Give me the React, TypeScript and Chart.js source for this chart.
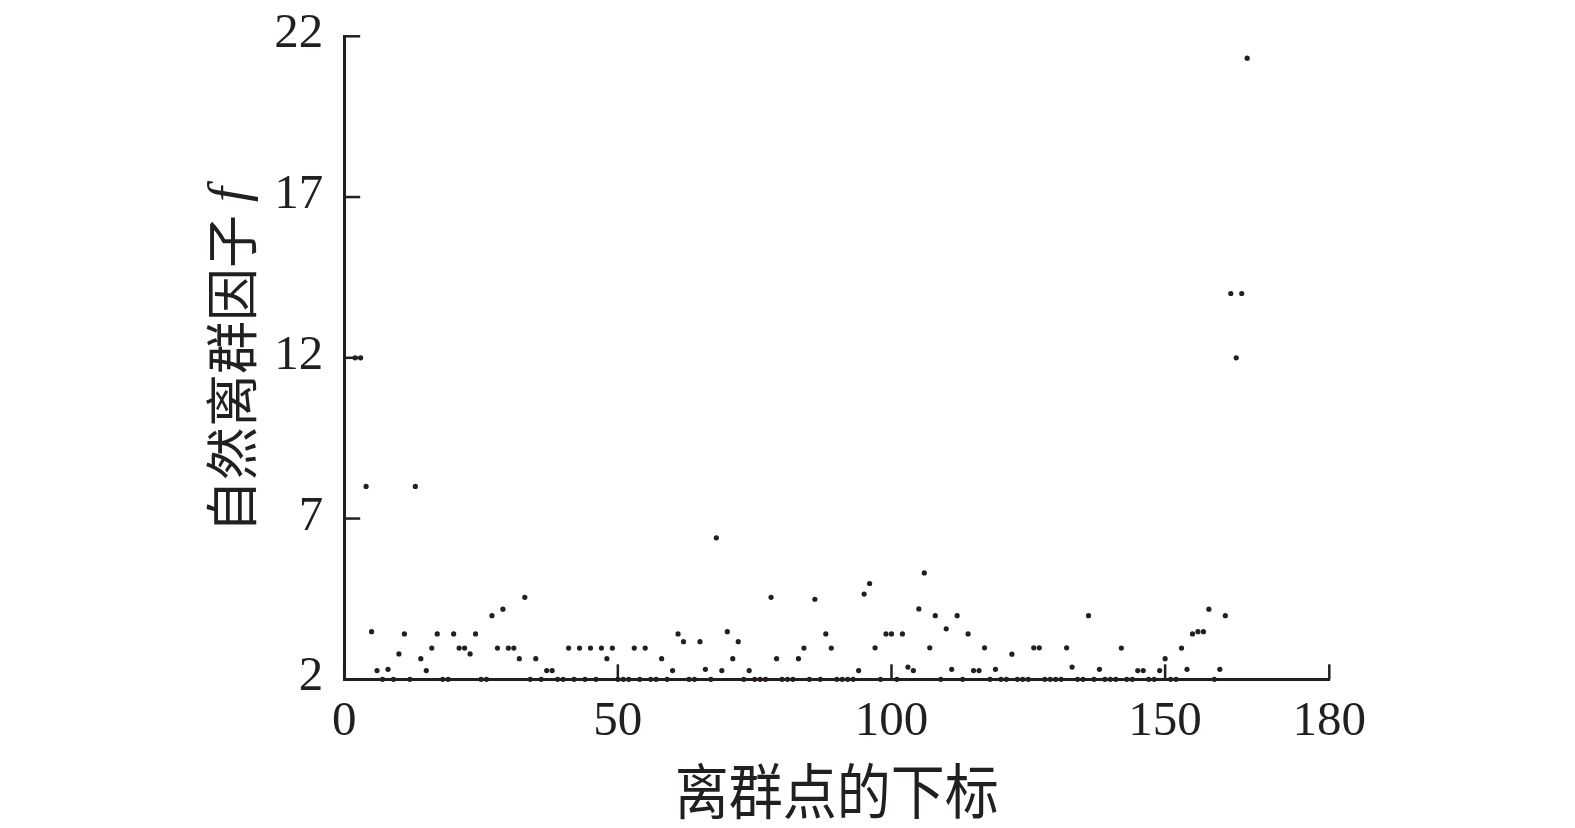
import React, { useEffect, useRef } from "react";
import { Chart, registerables } from "chart.js";

Chart.register(...registerables);

// Index of the first outlier shown (点的下标 starts here and runs consecutively)
const FIRST_INDEX = 2;

// Natural outlier factor f for each outlier index
const factorValues: number[] = [
  12, 12, 8, 3.48, 2.27, 2.0, 2.31, 2.0, 2.79, 3.41,
  2.0, 8, 2.64, 2.27, 2.97, 3.41, 2.0, 2.0, 3.41, 2.97,
  2.97, 2.79, 3.41, 2.0, 2.0, 3.98, 2.97, 4.18, 2.97, 2.97,
  2.64, 4.55, 2.0, 2.64, 2.0, 2.27, 2.27, 2.0, 2.0, 2.97,
  2.0, 2.97, 2.0, 2.97, 2.0, 2.97, 2.64, 2.97, 2.0, 2.0,
  2.0, 2.97, 2.0, 2.97, 2.0, 2.0, 2.64, 2.0, 2.27, 3.41,
  3.17, 2.0, 2.0, 3.17, 2.31, 2.0, 6.4, 2.27, 3.48, 2.64,
  3.17, 2.0, 2.27, 2.0, 2.0, 2.0, 4.55, 2.64, 2.0, 2.0,
  2.0, 2.64, 2.97, 2.0, 4.49, 2.0, 3.41, 2.97, 2.0, 2.0,
  2.0, 2.0, 2.27, 4.65, 4.98, 2.98, 2.0, 3.41, 3.41, 2.0,
  3.41, 2.38, 2.27, 4.19, 5.31, 2.98, 3.98, 2.0, 3.57, 2.31,
  3.98, 2.0, 3.41, 2.27, 2.27, 2.98, 2.0, 2.31, 2.0, 2.0,
  2.78, 2.0, 2.0, 2.0, 2.98, 2.98, 2.0, 2.0, 2.0, 2.0,
  2.98, 2.38, 2.0, 2.0, 3.98, 2.0, 2.31, 2.0, 2.0, 2.0,
  2.97, 2.0, 2.0, 2.27, 2.27, 2.0, 2.0, 2.27, 2.64, 2.0,
  2.0, 2.97, 2.31, 3.41, 3.48, 3.48, 4.18, 2.0, 2.31, 3.98,
  14, 12, 14, 21.32,
];

const xTickLabels: number[] = [0, 50, 100, 150, 180];
const yTickLabels: number[] = [2, 7, 12, 17, 22];
const xTitle = "离群点的下标";
const yTitleCJK = "自然离群因子";
const yTitleVar = "f";

const INK = "#231f20";
const W = 1575;
const H = 828;

const axisDecor = {
  id: "axisDecor",
  afterDraw(chart: any) {
    const { ctx, chartArea, scales } = chart;
    const xs = scales.x;
    const ys = scales.y;
    ctx.save();
    ctx.strokeStyle = INK;
    ctx.fillStyle = INK;
    ctx.lineWidth = 2.5;
    ctx.lineCap = "butt";

    // inward ticks
    for (const v of yTickLabels) {
      const py = ys.getPixelForValue(v);
      ctx.beginPath();
      ctx.moveTo(chartArea.left, py);
      ctx.lineTo(chartArea.left + 16, py);
      ctx.stroke();
    }
    for (const v of xTickLabels) {
      const px = xs.getPixelForValue(v);
      ctx.beginPath();
      ctx.moveTo(px, chartArea.bottom);
      ctx.lineTo(px, chartArea.bottom - 15);
      ctx.stroke();
    }

    // tick labels
    ctx.font = "49px 'Liberation Serif', 'Times New Roman', serif";
    ctx.textAlign = "right";
    ctx.textBaseline = "alphabetic";
    for (const v of yTickLabels) {
      const py = ys.getPixelForValue(v);
      ctx.fillText(String(v), chartArea.left - 21, py + 11);
    }
    ctx.textAlign = "center";
    for (const v of xTickLabels) {
      const px = xs.getPixelForValue(v);
      ctx.fillText(String(v), px, chartArea.bottom + 56);
    }

    // x title
    ctx.save();
    ctx.translate((chartArea.left + chartArea.right) / 2, 791.5);
    ctx.scale(1, 1.12);
    ctx.font = "54px 'Noto Sans CJK SC', sans-serif";
    ctx.textAlign = "center";
    ctx.textBaseline = "middle";
    ctx.fillText(xTitle, 0, 0);
    ctx.restore();

    // y title (rotated)
    ctx.save();
    ctx.translate(232, 0);
    ctx.rotate(-Math.PI / 2);
    ctx.font = "53px 'Noto Sans CJK SC', sans-serif";
    ctx.textAlign = "left";
    ctx.textBaseline = "middle";
    ctx.fillText(yTitleCJK, -533, 0);
    ctx.font = "italic 54px 'Liberation Serif', 'Times New Roman', serif";
    ctx.fillText(yTitleVar, -202, 0);
    ctx.restore();

    ctx.restore();
  },
};

export default function App() {
  const canvasRef = useRef<HTMLCanvasElement | null>(null);

  useEffect(() => {
    const canvas = canvasRef.current;
    if (!canvas) return;
    const points = factorValues.map((v, i) => ({ x: i + FIRST_INDEX, y: v }));
    const chart = new Chart(canvas, {
      type: "scatter",
      data: {
        datasets: [
          {
            data: points,
            backgroundColor: INK,
            borderColor: INK,
            borderWidth: 0,
            pointRadius: 2.6,
            pointHoverRadius: 2.6,
            clip: false as any,
          } as any,
        ],
      },
      options: {
        animation: false,
        responsive: false,
        devicePixelRatio: 1,
        events: [],
        layout: { padding: { left: 0, top: 36.3, right: W - 1329.3, bottom: 0 } },
        plugins: {
          legend: { display: false },
          tooltip: { enabled: false },
        },
        scales: {
          x: {
            type: "linear",
            min: 0,
            max: 180,
            grid: { display: false },
            border: { display: true, color: INK, width: 3 },
            ticks: { display: false },
            afterFit: (s: any) => {
              s.height = H - 679.3;
            },
          },
          y: {
            type: "linear",
            min: 2,
            max: 22,
            grid: { display: false },
            border: { display: true, color: INK, width: 3 },
            ticks: { display: false },
            afterFit: (s: any) => {
              s.width = 344.2;
            },
          },
        },
      } as any,
      plugins: [axisDecor],
    });
    return () => chart.destroy();
  }, []);

  return (
    <div style={{ position: "absolute", left: 0, top: 0, width: W, height: H, background: "#fff" }}>
      <canvas ref={canvasRef} width={W} height={H} style={{ width: W, height: H, display: "block" }} />
    </div>
  );
}
